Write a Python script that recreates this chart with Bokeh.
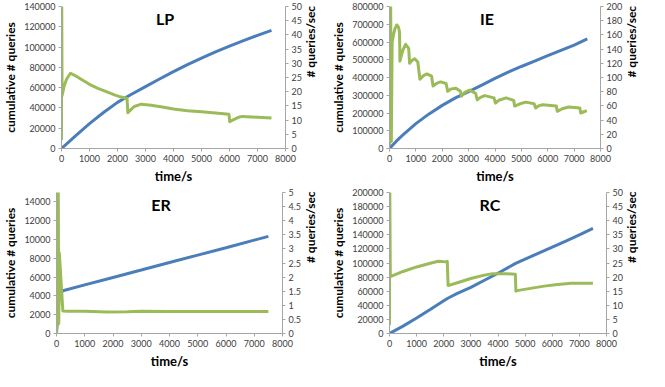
from math import pi
from bokeh.plotting import figure
from bokeh.models import Range1d, LinearAxis, FixedTicker, NumeralTickFormatter, Label
from bokeh.layouts import column, row
from bokeh.embed import file_html
from bokeh.resources import INLINE

# ---------------- data ----------------
x_ticks = [0, 1000, 2000, 3000, 4000, 5000, 6000, 7000, 8000]

# LP
lp_t_cum = [0, 500, 1000, 1500, 2000, 2500, 3000, 3500, 4000, 4500, 5000, 5500, 6000, 6500, 7000, 7500]
lp_cum = [0, 12500, 24500, 35500, 45500, 53500, 61000, 68500, 75800, 82600, 89000, 95200, 101000, 106300, 111600, 116500]
lp_t_rate = [0, 5, 20, 90, 180, 320, 500, 700, 1000, 1300, 1600, 1915, 2100, 2340, 2370, 2450, 2600, 2850,
             3200, 3600, 4000, 4500, 5000, 5500, 5980, 6010, 6150, 6300, 6460, 7000, 7500]
lp_rate = [3, 60, 18.6, 21.8, 24.4, 26.5, 25.6, 24.4, 22.6, 21.2, 20.0, 18.8, 18.2, 17.6, 12.6, 13.4, 14.8, 15.6,
           15.2, 14.6, 13.9, 13.3, 12.9, 12.5, 12.1, 9.4, 10.2, 10.9, 11.3, 11.0, 10.7]

# IE
ie_t_cum = [0, 250, 500, 1000, 1500, 2000, 2500, 3000, 3500, 4000, 4500, 5000, 5500, 6000, 6500, 7000, 7500]
ie_cum = [0, 40000, 75000, 140000, 195000, 243000, 285000, 320000, 357000, 395000, 430000, 462000, 492000,
          523000, 553000, 583000, 617000]
ie_t_rate = [0, 10, 40, 70, 100, 150, 200, 277, 340, 380, 395, 500, 612, 727, 762, 850, 958, 1073, 1154, 1300,
             1420, 1593, 1650, 1800, 1940, 2147, 2205, 2350, 2517, 2690, 2725, 2850, 3037, 3267, 3325, 3450,
             3612, 3960, 4017, 4150, 4422, 4710, 4745, 4950, 5170, 5483, 5541, 5650, 5806, 6326, 6360, 6550,
             6788, 7216, 7250, 7480]
ie_rate = [5, 230, 230, 10, 150, 160, 168, 174, 171, 164, 123, 138, 146.6, 141, 120, 124, 126.4, 121.8, 97.5, 103,
           105, 102, 88, 92, 93.8, 91.5, 80.5, 84, 85, 80.5, 73.6, 79, 82.3, 77.7, 68.6, 72,
           74.5, 71.3, 63.9, 68, 71.3, 67.6, 59.8, 63, 65.3, 63, 57, 60, 61.6, 59.8, 52.4, 56,
           58.4, 57, 50, 53.5]

# ER
er_t_cum = [0, 100, 224, 1000, 2000, 3000, 4000, 5000, 6000, 7000, 7500]
er_cum = [0, 4000, 4550, 5170, 5960, 6750, 7550, 8340, 9130, 9930, 10330]
er_t_rate = [0, 20, 60, 80, 100, 225, 400, 1000, 1800, 2500, 3000, 4000, 5000, 6000, 7000, 7500]
er_rate = [0, 6, 6, 0.35, 2.85, 0.8, 0.79, 0.79, 0.76, 0.77, 0.79, 0.78, 0.78, 0.78, 0.78, 0.78]

# RC
rc_t_cum = [0, 500, 1000, 1500, 2000, 2150, 2500, 3000, 3500, 4000, 4650, 5000, 5500, 6000, 6500, 7000, 7500]
rc_cum = [0, 10500, 22000, 34000, 46500, 50000, 57000, 65500, 75500, 85500, 99500, 105500, 114000, 122500,
          131000, 140000, 149000]
rc_t_rate = [0, 5, 30, 500, 1000, 1573, 1800, 2100, 2130, 2160, 2500, 3000, 3500, 3800, 4300, 4640, 4660, 4700,
             5200, 5700, 6200, 6700, 7500]
rc_rate = [3, 60, 20.2, 22.0, 23.6, 25.1, 25.6, 25.4, 25.6, 17.0, 18.0, 19.5, 20.7, 21.2, 21.2, 21.0, 15.0, 15.2,
           16.0, 16.8, 17.4, 17.8, 17.8]

# ---------------- style ----------------
FONT = "Lato"
BLUE = "#4a7ebb"
GREEN = "#9bbb59"
AXIS = "#a6a6a6"
TXT = "#404040"


def style_axis(ax):
    ax.axis_line_color = AXIS
    ax.major_tick_line_color = AXIS
    ax.minor_tick_line_color = None
    ax.major_tick_in = 0
    ax.major_tick_out = 3
    ax.major_label_standoff = 3
    ax.major_label_text_font = FONT
    ax.major_label_text_font_size = "9px"
    ax.major_label_text_color = TXT
    ax.axis_label_text_font = FONT
    ax.axis_label_text_font_style = "bold"
    ax.axis_label_text_color = "#000000"
    ax.axis_label_standoff = 3


def panel(name, tc, cum, tr, rate, ymax, ystep, ytop_tick, rmax, rstep, rfmt,
          width, height, bl, br, r_standoff):
    p = figure(width=width, height=height, output_backend="svg", toolbar_location=None,
               x_range=Range1d(0, 8000), y_range=Range1d(0, ymax),
               min_border_left=bl, min_border_right=br, min_border_top=6, min_border_bottom=35)
    p.outline_line_color = None
    p.xgrid.visible = False
    p.ygrid.visible = False
    p.extra_y_ranges = {"r": Range1d(0, rmax)}

    p.xaxis.ticker = FixedTicker(ticks=x_ticks)
    p.xaxis.formatter = NumeralTickFormatter(format="0")
    p.xaxis.axis_label = "time/s"
    p.yaxis.ticker = FixedTicker(ticks=list(range(0, ytop_tick + 1, ystep)))
    p.yaxis.formatter = NumeralTickFormatter(format="0")
    p.yaxis.axis_label = "cumulative # queries"
    for ax in p.xaxis + p.yaxis:
        style_axis(ax)
    p.xaxis.axis_label_text_font_size = "13px"
    p.yaxis.axis_label_text_font_size = "12px"

    n = int(round(rmax / rstep))
    rax = LinearAxis(y_range_name="r", ticker=FixedTicker(ticks=[i * rstep for i in range(n + 1)]),
                     formatter=NumeralTickFormatter(format=rfmt), axis_label="# queries/sec")
    style_axis(rax)
    rax.axis_label_text_font_size = "12px"
    rax.axis_label_standoff = r_standoff
    try:
        rax.axis_label_orientation = pi / 2
    except Exception:
        pass
    p.add_layout(rax, "right")

    p.line(tc, cum, color=BLUE, line_width=3)
    p.line(tr, rate, color=GREEN, line_width=3, y_range_name="r", line_join="round")

    p.add_layout(Label(x=3700, y=ymax * 0.985, text=name, text_align="center", text_baseline="top",
                       text_font=FONT, text_font_style="bold", text_font_size="16px", text_color="#000000"))
    return p


p1 = panel("LP", lp_t_cum, lp_cum, lp_t_rate, lp_rate, 140000, 20000, 140000, 50, 5, "0",
           328, 186, 51, 30, 6)
p1.scatter([0], [0], size=3, color="#c0504d")
p2 = panel("IE", ie_t_cum, ie_cum, ie_t_rate, ie_rate, 800000, 100000, 800000, 200, 20, "0",
           321, 186, 58, 20, 6)
p3 = panel("ER", er_t_cum, er_cum, er_t_rate, er_rate, 15000, 2000, 14000, 5, 0.5, "0.[0]",
           328, 185, 51, 30, 6)
p4 = panel("RC", rc_t_cum, rc_cum, rc_t_rate, rc_rate, 200000, 20000, 200000, 50, 5, "0",
           321, 185, 58, 20, 6)

layout = column(row(p1, p2), row(p3, p4))
open("out.html", "w").write(file_html(layout, INLINE))
